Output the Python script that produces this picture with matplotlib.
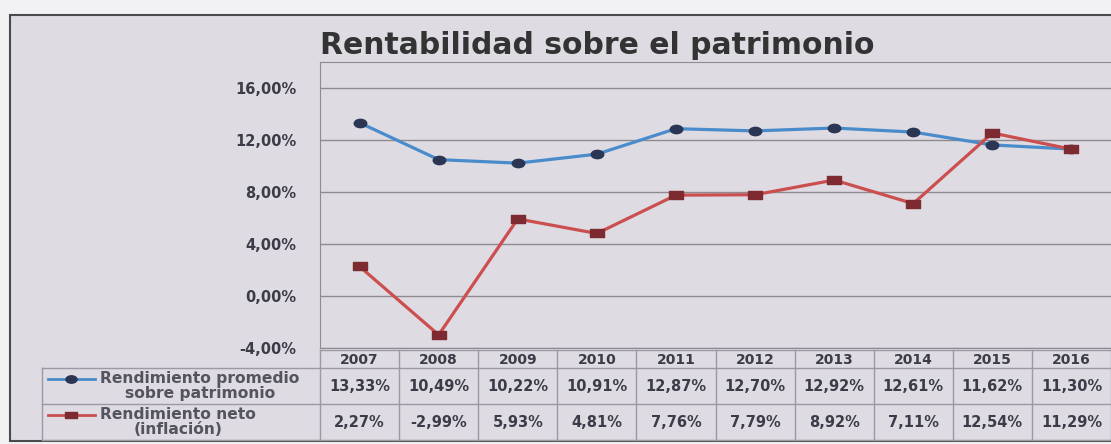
import numpy as np
import matplotlib.pyplot as plt
from matplotlib.patches import Rectangle
from matplotlib.path import Path
from matplotlib.transforms import Affine2D

# datos
years = ['2007', '2008', '2009', '2010', '2011', '2012', '2013', '2014', '2015', '2016']
rend_promedio = [13.33, 10.49, 10.22, 10.91, 12.87, 12.70, 12.92, 12.61, 11.62, 11.30]
rend_neto = [2.27, -2.99, 5.93, 4.81, 7.76, 7.79, 8.92, 7.11, 12.54, 11.29]
serie_labels = ['Rendimiento promedio\nsobre patrimonio', 'Rendimiento neto\n(inflación)']
ytick_vals = [-4, 0, 4, 8, 12, 16]
titulo = 'Rentabilidad sobre el patrimonio'

W, H = 1111, 444
bg = '#dedbe3'
txt_color = '#3c3c48'
grid_color = '#8e8a8e'
line_colors = ['#4a8ccb', '#cc4f4f']
marker_colors = ['#2b3654', '#7d2a30']


def fmt(v):
    return ('%.2f%%' % v).replace('.', ',')


def rect(x0, y0, x1, y1):
    return [x0 / W, 1 - y1 / H, (x1 - x0) / W, (y1 - y0) / H]


# marcadores "estirados" como en la captura
ellipse = Path.unit_circle().transformed(Affine2D().scale(1.5, 1))
square = Path([(-1.75, -1), (1.75, -1), (1.75, 1), (-1.75, 1), (-1.75, -1)],
              closed=True)
markers = [ellipse, square]

fig = plt.figure(figsize=(W / 100, H / 100), dpi=100, facecolor='#f2f2f4')
fig.patches.append(Rectangle((10 / W, 1 - 441 / H), 1120 / W, 426 / H,
                             transform=fig.transFigure, facecolor=bg,
                             edgecolor='#4a4a4a', lw=1.5, zorder=-5))

fig.text(597 / W, 1 - 45 / H, titulo, ha='center', va='center',
         fontsize=21.5, fontweight='bold', color='#333333')

ax = fig.add_axes(rect(320, 62, 1111, 348))
ax.set_facecolor(bg)
x = np.arange(len(years))
series = [rend_promedio, rend_neto]
for i, s in enumerate(series):
    ax.plot(x, s, color=line_colors[i], lw=2.3, marker=markers[i],
            markersize=9 if i == 0 else 10, markerfacecolor=marker_colors[i],
            markeredgecolor=marker_colors[i], zorder=3 + i)
ax.set_xlim(-0.5, len(years) - 0.5)
ax.set_ylim(-4, 18)
ax.set_yticks(ytick_vals)
ax.set_yticklabels([fmt(v) for v in ytick_vals], fontsize=10.5,
                   fontweight='bold', color=txt_color)
ax.tick_params(axis='y', length=0, pad=17)
ax.set_xticks([])
ax.grid(axis='y', color=grid_color, lw=1)
ax.set_axisbelow(True)
for side in ['left', 'top', 'bottom']:
    ax.spines[side].set_color(grid_color)
ax.spines['right'].set_visible(False)

# tabla de datos
tax = fig.add_axes(rect(320, 348, 1111, 441), sharex=ax)
tax.set_ylim(93, 0)
tax.axis('off')
tcol = '#9d98a2'
xl = -0.5 - (320 - 42) / 79.1
tax.plot([-0.5, 9.5], [2, 2], color=tcol, lw=1, clip_on=False)
for yy in [20, 56, 92]:
    tax.plot([xl, 9.5], [yy, yy], color=tcol, lw=1, clip_on=False)
for k in range(len(years) + 1):
    tax.plot([k - 0.5, k - 0.5], [2, 92], color=tcol, lw=1, clip_on=False)
tax.plot([xl, xl], [20, 92], color=tcol, lw=1, clip_on=False)

for i, yr in enumerate(years):
    tax.text(i, 11.5, yr, ha='center', va='center', fontsize=10,
             fontweight='bold', color=txt_color)
rows_y = [38, 74]
for r, s in enumerate(series):
    for i, v in enumerate(s):
        tax.text(i, rows_y[r], fmt(v), ha='center', va='center', fontsize=10.5,
                 fontweight='bold', color=txt_color)
    gx0 = xl + 6 / 79.1
    gx1 = xl + 53 / 79.1
    tax.plot([gx0, gx1], [rows_y[r] - 7, rows_y[r] - 7], color=line_colors[r],
             lw=2, clip_on=False)
    tax.plot([(gx0 + gx1) / 2], [rows_y[r] - 7], marker=markers[r],
             markersize=8, color=marker_colors[r], clip_on=False)
    tax.text(xl + 58 / 79.1, rows_y[r], serie_labels[r], ha='left',
             va='center', multialignment='center', fontsize=11.2,
             fontweight='bold', color='#55545e', linespacing=1.0)

fig.savefig('out.png', dpi=100, facecolor=fig.get_facecolor())
